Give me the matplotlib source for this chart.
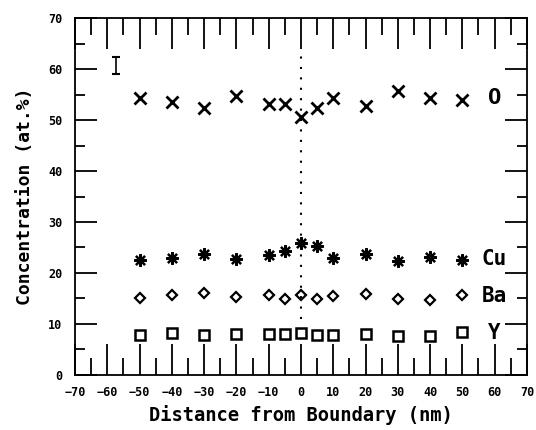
import matplotlib
matplotlib.use('Agg')
import matplotlib.pyplot as plt
from matplotlib.ticker import MultipleLocator

# distance from boundary (nm)
dist = [-50, -40, -30, -20, -10, -5, 0, 5, 10, 20, 30, 40, 50]

# concentrations (at.%)
conc_o = [54.4, 53.5, 52.3, 54.8, 53.1, 53.1, 50.5, 52.3, 54.4, 52.8, 55.6, 54.3, 53.9]
conc_cu = [22.6, 22.9, 23.8, 22.7, 23.6, 24.4, 25.8, 25.2, 22.9, 23.8, 22.3, 23.1, 22.5]
conc_ba = [15.1, 15.7, 16.1, 15.2, 15.7, 14.9, 15.7, 14.9, 15.4, 15.8, 14.9, 14.7, 15.6]
conc_y = [7.9, 8.2, 7.9, 8.0, 8.0, 8.1, 8.3, 7.8, 7.8, 8.0, 7.7, 7.7, 8.5]

# element labels and where they sit
elements = ['O', 'Cu', 'Ba', 'Y']
label_x = 60
label_y = [54.4, 22.7, 15.5, 8.3]

# typical error bar
err_x = -57.3
err_y = 60.7
err_size = 1.7

font = 'DejaVu Sans Mono'

fig = plt.figure(figsize=(5.36, 4.3), dpi=100)
ax = fig.add_axes([0.14, 0.128, 0.843, 0.83])

ax.plot(dist, conc_o, linestyle='none', marker='x', ms=8, mew=2, color='black')
ax.plot(dist, conc_cu, linestyle='none', marker=(8, 2, 0), ms=9, mew=1.6, color='black')
ax.plot(dist, conc_ba, linestyle='none', marker='D', ms=5.5, mew=1.6, mfc='white', color='black')
ax.plot(dist, conc_y, linestyle='none', marker='s', ms=6.5, mew=1.8, mfc='white', color='black')

sizes = [16, 15, 15, 15]
for name, yv, fs in zip(elements, label_y, sizes):
    ax.text(label_x, yv, name, ha='center', va='center', fontsize=fs,
            fontweight='bold', family=font)

ax.errorbar([err_x], [err_y], yerr=[err_size], color='black', capsize=3, lw=1.2, capthick=1.5)

# boundary
ax.plot([0, 0], [11, 64], linestyle=(0, (1, 4)), color='black', lw=1.5)

ax.set_xlim(-70, 70)
ax.set_ylim(0, 70)
ax.xaxis.set_major_locator(MultipleLocator(10))
ax.xaxis.set_minor_locator(MultipleLocator(5))
ax.yaxis.set_major_locator(MultipleLocator(10))
ax.yaxis.set_minor_locator(MultipleLocator(5))
ax.tick_params(which='both', direction='in', top=True, right=True, color='black')
ax.tick_params(axis='x', which='major', length=22, width=1.3, pad=8)
ax.tick_params(axis='x', which='minor', length=12, width=1.3)
ax.tick_params(axis='y', which='major', length=16, width=1.3, pad=9)
ax.tick_params(axis='y', which='minor', length=7, width=1.3)
for s in ax.spines.values():
    s.set_linewidth(1.3)

for lab in ax.get_xticklabels() + ax.get_yticklabels():
    lab.set_family(font)
    lab.set_fontweight('bold')
    lab.set_fontsize(8.5)

ax.set_xlabel('Distance from Boundary (nm)', family=font, fontweight='bold', fontsize=13.5, labelpad=4)
ax.set_ylabel('Concentration (at.%)', family=font, fontweight='bold', fontsize=13, labelpad=10)

fig.savefig('out.png', dpi=100)
